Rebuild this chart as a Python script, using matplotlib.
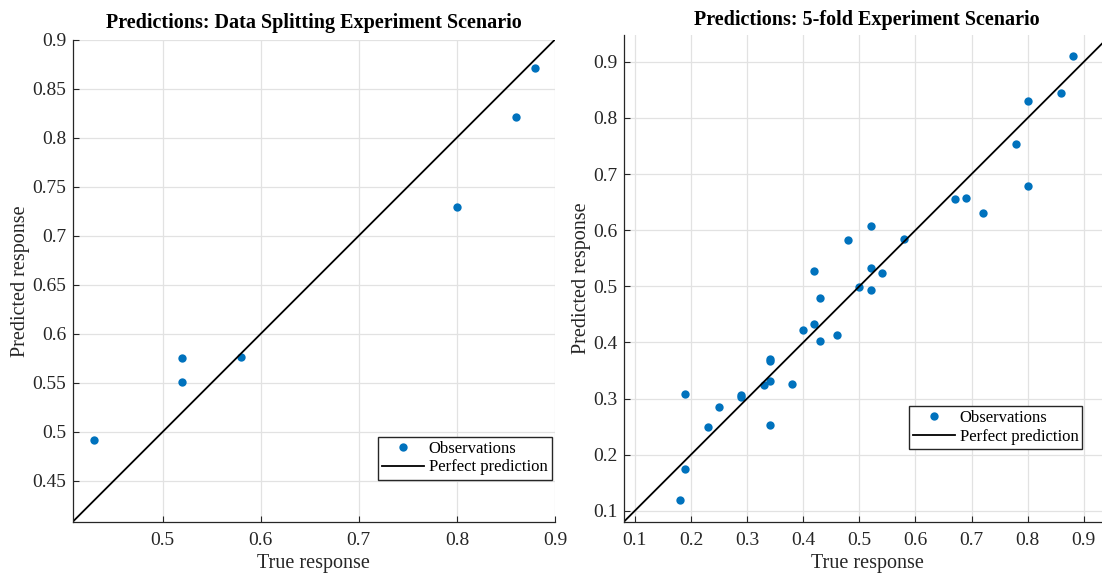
import matplotlib.pyplot as plt
import numpy as np
from matplotlib.ticker import FormatStrFormatter

plt.rcParams['font.family'] = ['Liberation Serif', 'DejaVu Serif']

# Data splitting scenario
split_true = [0.43, 0.52, 0.52, 0.58, 0.80, 0.86, 0.88]
split_pred = [0.492, 0.575, 0.551, 0.576, 0.729, 0.821, 0.871]

# 5-fold scenario
fold_true = [0.88, 0.80, 0.86, 0.78, 0.80, 0.67, 0.69, 0.72, 0.52, 0.48, 0.58,
             0.42, 0.52, 0.54, 0.50, 0.52, 0.43, 0.40, 0.42, 0.46, 0.43, 0.34,
             0.34, 0.34, 0.33, 0.38, 0.29, 0.29, 0.19, 0.25, 0.23, 0.34, 0.19, 0.18]
fold_pred = [0.910, 0.830, 0.845, 0.753, 0.679, 0.656, 0.657, 0.630, 0.608, 0.582, 0.584,
             0.528, 0.533, 0.523, 0.498, 0.493, 0.479, 0.422, 0.432, 0.413, 0.403, 0.370,
             0.367, 0.332, 0.325, 0.326, 0.307, 0.302, 0.308, 0.285, 0.250, 0.253, 0.175, 0.120]

blue = '#0072BD'

fig = plt.figure(figsize=(11.02, 5.73), dpi=100)
ax1 = fig.add_axes([0.0658, 0.089, 0.4378, 0.842])
ax2 = fig.add_axes([0.5659, 0.089, 0.442, 0.850])


def style(ax, lim, ticks_x, ticks_y):
    ax.set_xlim(lim)
    ax.set_ylim(lim)
    ax.set_xticks(ticks_x)
    ax.set_yticks(ticks_y)
    ax.xaxis.set_major_formatter(FormatStrFormatter('%g'))
    ax.set_yticklabels([('%.2f' % v).rstrip('0').rstrip('.') for v in ticks_y])
    ax.grid(True, color='#e2e2e2', lw=0.9)
    ax.set_axisbelow(True)
    for s in ['top', 'right']:
        ax.spines[s].set_visible(False)
    for s in ['left', 'bottom']:
        ax.spines[s].set_color('#262626')
        ax.spines[s].set_linewidth(0.9)
    ax.tick_params(direction='in', length=4, width=0.8, labelsize=14,
                   colors='#262626', labelcolor='#262626')
    ax.tick_params(axis='x', pad=7)
    ax.tick_params(axis='y', pad=4.5)
    ax.set_xlabel('True response', fontsize=14.5, color='#262626', labelpad=4)
    ax.set_ylabel('Predicted response', fontsize=14.5, color='#262626', labelpad=1.5)


leg_kw = dict(loc='lower right', fancybox=False, edgecolor='#262626', framealpha=1,
              fontsize=12, handlelength=2.5, borderpad=0.25, labelspacing=0.15,
              handletextpad=0.3, borderaxespad=0)

# left panel
lim1 = (0.408, 0.9)
ax1.plot(split_true, split_pred, 'o', color=blue, ms=6, mec='none', label='Observations')
ax1.plot(lim1, lim1, color='black', lw=1.3, label='Perfect prediction')
style(ax1, lim1, [0.5, 0.6, 0.7, 0.8, 0.9], np.arange(0.45, 0.91, 0.05))
ax1.set_title('Predictions: Data Splitting Experiment Scenario', fontsize=14.5,
              fontweight='bold', pad=8)
ax1.legend(bbox_to_anchor=(0.993, 0.088), **leg_kw)

# right panel
lim2 = (0.08, 0.948)
ax2.plot(fold_true, fold_pred, 'o', color=blue, ms=6, mec='none', label='Observations')
ax2.plot(lim2, lim2, color='black', lw=1.3, label='Perfect prediction')
t2 = [0.1, 0.2, 0.3, 0.4, 0.5, 0.6, 0.7, 0.8, 0.9]
style(ax2, lim2, t2, t2)
ax2.set_title('Predictions: 5-fold Experiment Scenario', fontsize=14.5,
              fontweight='bold', pad=7)
ax2.legend(bbox_to_anchor=(0.942, 0.150), **leg_kw)

fig.savefig('out.png', dpi=100)
